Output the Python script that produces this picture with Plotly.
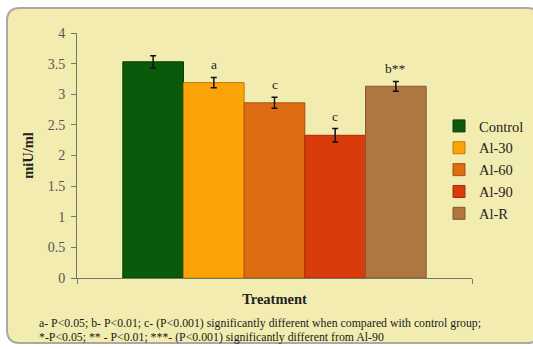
import plotly.graph_objects as go

groups = ["Control", "Al-30", "Al-60", "Al-90", "Al-R"]
values = [3.53, 3.19, 2.86, 2.33, 3.13]
errors = [0.10, 0.085, 0.09, 0.11, 0.08]
sig_labels = ["", "a", "c", "c", "b**"]
colors = ["#0B5A0C", "#FCA308", "#DD6C12", "#D93B0B", "#AE7641"]
edge_colors = ["#063F07", "#C27C05", "#A9500D", "#A82C08", "#85582F"]
y_ticks = [0, 0.5, 1, 1.5, 2, 2.5, 3, 3.5, 4]
footnote = ["a- P<0.05; b- P<0.01; c- (P<0.001) significantly different when compared with control group;",
            "*-P<0.05; ** - P<0.01; ***- (P<0.001) significantly different from Al-90"]

W, H = 533, 349
ML, MR, MT, MB = 77, 61, 33, 71
PW, PH = W - ML - MR, H - MT - MB
BARGAP = 0.232
FONT = "Liberation Serif"


def px2paper(x, y):
    return (x - ML) / PW, (H - MB - y) / PH


fig = go.Figure()
for g, v, e, c, ec in zip(groups, values, errors, colors, edge_colors):
    fig.add_trace(go.Bar(
        x=[0], y=[v], name=g, legendgroup=g,
        marker=dict(color=c, line=dict(color=ec, width=1)),
        error_y=dict(type="data", array=[e], color="#111111", thickness=1.5, width=3),
    ))

# significance letters above each bar
n = len(groups)
bw = (1 - BARGAP) / n
annotations = []
for i, (v, e, lab) in enumerate(zip(values, errors, sig_labels)):
    if not lab:
        continue
    xc = -(1 - BARGAP) / 2 + (i + 0.5) * bw
    annotations.append(dict(x=xc, y=v + e, xref="x", yref="y", text=lab, showarrow=False,
                            yanchor="bottom", yshift=3,
                            font=dict(family=FONT, size=13.5, color="#222222")))

for k, line in enumerate(footnote):
    fx, fy = px2paper(37, 323 + 14 * k)
    annotations.append(dict(x=fx, y=fy, xref="paper", yref="paper", text=line, showarrow=False,
                            xanchor="left", yanchor="middle",
                            font=dict(family=FONT, size=11.8, color="#1a1a1a")))

# rounded background panel
x0, y0, x1, y1, r = 7, 8, 540, 343, 13
def P(x, y):
    a, b = px2paper(x, y)
    return f"{a:.5f},{b:.5f}"
path = (f"M{P(x0 + r, y0)} L{P(x1 - r, y0)} Q{P(x1, y0)} {P(x1, y0 + r)} "
        f"L{P(x1, y1 - r)} Q{P(x1, y1)} {P(x1 - r, y1)} L{P(x0 + r, y1)} "
        f"Q{P(x0, y1)} {P(x0, y1 - r)} L{P(x0, y0 + r)} Q{P(x0, y0)} {P(x0 + r, y0)} Z")
shapes = [dict(type="path", path=path, xref="paper", yref="paper", layer="below",
               fillcolor="#F3ECB0", line=dict(color="#A9A9A2", width=2))]

fig.update_layout(
    width=W, height=H,
    margin=dict(l=ML, r=MR, t=MT, b=MB, autoexpand=False),
    paper_bgcolor="white", plot_bgcolor="rgba(0,0,0,0)",
    barmode="group", bargap=BARGAP, bargroupgap=0,
    font=dict(family=FONT, color="#222222"),
    showlegend=True,
    legend=dict(xref="container", yref="container", x=439 / W, y=1 - 110 / H,
                xanchor="left", yanchor="top", bgcolor="rgba(0,0,0,0)",
                font=dict(family=FONT, size=14.5, color="#222222"),
                traceorder="grouped", tracegroupgap=0, itemwidth=30),
    xaxis=dict(range=[-0.5, 0.5], tickvals=[-0.5, 0.5], showticklabels=False,
               ticks="outside", ticklen=5, tickcolor="#777766", showline=True,
               linecolor="#777766", linewidth=1, showgrid=False, zeroline=False,
               title=dict(text="<b>Treatment</b>", standoff=10,
                          font=dict(family=FONT, size=14.5, color="#222222"))),
    yaxis=dict(range=[0, 4], tickvals=y_ticks, ticktext=[f"{t:g}" for t in y_ticks],
               ticks="outside", ticklen=5, tickcolor="#777766", showline=True,
               linecolor="#777766", linewidth=1, showgrid=False, zeroline=False,
               ticklabelstandoff=3,
               tickfont=dict(family=FONT, size=14, color="#555555"),
               title=dict(text="<b>miU/ml</b>", standoff=10,
                          font=dict(family=FONT, size=14.5, color="#222222"))),
    annotations=annotations, shapes=shapes,
)

fig.write_html("out.html", config={"displayModeBar": False},
               post_script="document.body.style.margin='0';")
